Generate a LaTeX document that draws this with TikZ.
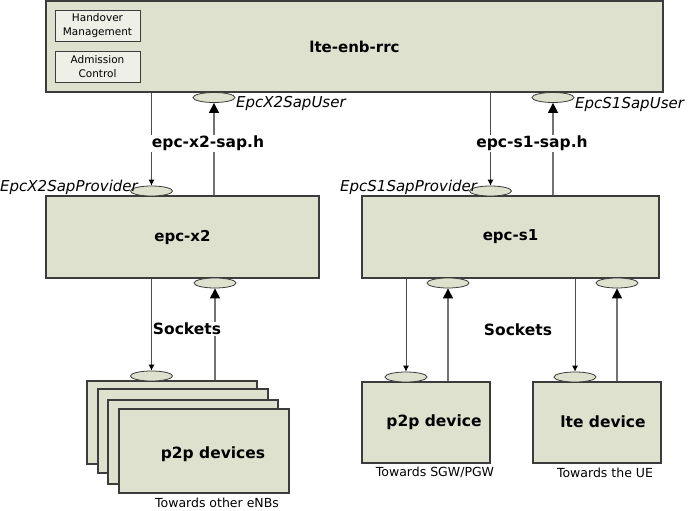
\documentclass[tikz,border=0pt]{standalone}
\usepackage{fontspec}
\setmainfont{DejaVu Sans}
\usepackage{xcolor}
\usetikzlibrary{arrows.meta, positioning, calc, shapes.geometric}
\definecolor{diafill}{RGB}{222,225,205}
\definecolor{dialight}{RGB}{238,239,230}
\definecolor{dialine}{RGB}{60,60,60}

\begin{document}
\begin{tikzpicture}[x=1pt, y=-1pt,
    box/.style={rectangle, draw=dialine, line width=1.1pt,
                fill=diafill, inner sep=0pt,
                font=\fontsize{15}{18}\selectfont\bfseries},
    inbox/.style={rectangle, draw=dialine, line width=0.9pt,
                  fill=dialight, minimum width=85, minimum height=31,
                  inner sep=0pt, align=center,
                  font=\fontsize{10.5}{14}\selectfont},
    sap/.style={ellipse, draw=dialine, line width=0.8pt,
                fill=diafill, minimum width=42, minimum height=10,
                inner sep=0pt},
    hdr/.style={fill=white, inner sep=1pt,
                font=\fontsize{15.5}{18}\selectfont\bfseries},
    sapname/.style={anchor=west, inner sep=0pt,
                    font=\fontsize{15}{18}\selectfont\itshape},
    towards/.style={inner sep=0pt, font=\fontsize{12.5}{14}\selectfont},
    down/.style={draw=black!70, line width=0.8pt,
                 -{Latex[length=6pt, width=6pt, color=black]}},
    up/.style={draw=black!55, line width=1.1pt,
               -{Triangle[length=10pt, width=10pt, color=black]}}
]
    \useasboundingbox (0,0) rectangle (691,511);

    % lte-enb-rrc
    \node[box, minimum width=617, minimum height=91] (rrc) at (354.5,46.5) {lte-enb-rrc};
    \node[inbox] (ho) at (97.5,25.5) {Handover\\Management};
    \node[inbox] (ac) at (97.5,66.5) {Admission\\Control};

    % epc boxes
    \node[box, minimum width=273, minimum height=82] (x2) at (182.5,237) {epc-x2};
    \node[box, minimum width=297, minimum height=82] (s1) at (510.5,237) {epc-s1};

    % sap ellipses
    \node[sap] (x2prov) at (151.5,191) {};
    \node[sap] (x2user) at (214,97.5) {};
    \node[sap] (s1prov) at (490.5,191) {};
    \node[sap] (s1user) at (553,97.5) {};

    \node[sapname] (x2usertxt) at (236,103) {EpcX2SapUser};
    \node[sapname] (x2provtxt) at (0,187) {EpcX2SapProvider};
    \node[sapname] (s1provtxt) at (340,187) {EpcS1SapProvider};
    \node[sapname] (s1usertxt) at (575,104) {EpcS1SapUser};

    % peer devices
    \node[box, minimum width=170, minimum height=83] (dev1) at (172,422.5) {};
    \node[box, minimum width=170, minimum height=84] (dev2) at (183,431) {};
    \node[box, minimum width=170, minimum height=84] (dev3) at (193,442) {};
    \node[box, minimum width=170, minimum height=84] (dev4) at (204,451) {};
    \node[hdr, fill=none] (devtxt) at (213,454) {p2p devices};
    \node[box, minimum width=128, minimum height=81] (p2p) at (426,422.5) {};
    \node[hdr, fill=none] (p2ptxt) at (434,422) {p2p device};
    \node[box, minimum width=128, minimum height=81] (lte) at (597,422.5) {};
    \node[hdr, fill=none] (ltetxt) at (603,422) {lte device};

    \node[sap] (devsock) at (151.5,376) {};
    \node[sap] (x2sock) at (215,283) {};
    \node[sap] (p2psock) at (406,377) {};
    \node[sap] (s1sockA) at (448,283) {};
    \node[sap] (ltesock) at (575,377) {};
    \node[sap] (s1sockB) at (617,283) {};

    \node[towards] (towenb) at (217,503) {Towards other eNBs};
    \node[towards] (towsgw) at (435,472) {Towards SGW/PGW};
    \node[towards] (towue) at (605,473) {Towards the UE};

    % connectors
    \draw[down] (x2prov |- rrc.south) -- (x2prov.north);
    \draw[up] (x2user |- x2.north) -- (x2user.south);
    \draw[down] (s1prov |- rrc.south) -- (s1prov.north);
    \draw[up] (s1user |- s1.north) -- (s1user.south);

    \draw[down] (devsock |- x2.south) -- (devsock.north);
    \draw[up] (x2sock |- dev1.north) -- (x2sock.south);
    \draw[down] (p2psock |- s1.south) -- (p2psock.north);
    \draw[up] (s1sockA |- p2p.north) -- (s1sockA.south);
    \draw[down] (ltesock |- s1.south) -- (ltesock.north);
    \draw[up] (s1sockB |- lte.north) -- (s1sockB.south);

    % header labels
    \node[hdr] (x2hdr) at (208,143) {epc-x2-sap.h};
    \node[hdr] (s1hdr) at (532,143) {epc-s1-sap.h};
    \node[hdr] (x2sockhdr) at (187,329) {Sockets};
    \node[hdr] (s1sockhdr) at (518,330) {Sockets};
\end{tikzpicture}
\end{document}
